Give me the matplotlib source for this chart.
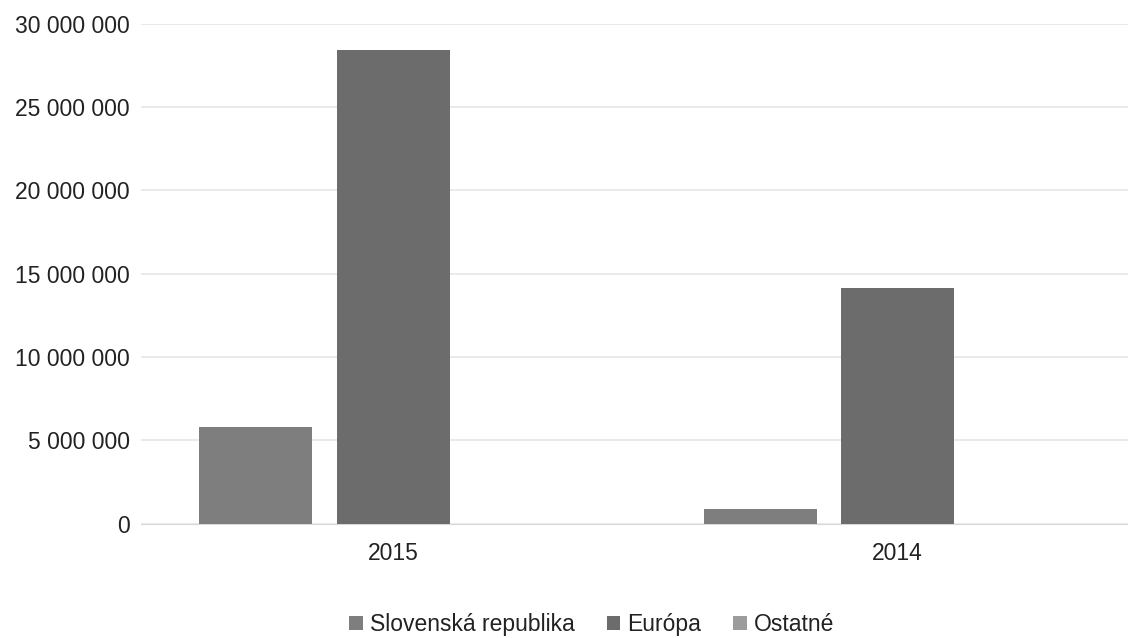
import numpy as np
import matplotlib.pyplot as plt
from matplotlib.ticker import FuncFormatter

plt.rcParams['font.family'] = ['Liberation Sans', 'DejaVu Sans']

years = ['2015', '2014']
series = ['Slovenská republika', 'Európa', 'Ostatné']
slovensko = [5800000, 900000]
europa = [28400000, 14150000]
ostatne = [0, 0]
colors = ['#7e7e7e', '#6c6c6c', '#9c9c9c']

fig = plt.figure(figsize=(11.28, 6.38), dpi=100)
ax = fig.add_axes([0.125, 0.179, 0.894, 0.784])

x = np.arange(len(years))
w = 0.224
step = 0.272
for i, (vals, name) in enumerate(zip([slovensko, europa, ostatne], series)):
    ax.bar(x + (i - 1) * step, vals, w, color=colors[i], label=name, zorder=3)

ax.set_xlim(-0.5, 1.5)
ax.set_ylim(0, 30000000)
ax.set_yticks(np.arange(0, 30000001, 5000000))
ax.yaxis.set_major_formatter(FuncFormatter(lambda v, p: f'{int(v):,}'.replace(',', ' ')))
ax.set_xticks(x)
ax.set_xticklabels(years)
ax.tick_params(axis='both', length=0, labelsize=16.5, colors='#222222')
ax.tick_params(axis='y', pad=8)
ax.tick_params(axis='x', pad=13)
ax.grid(axis='y', color='#e6e6e6', linewidth=1.2, zorder=0)
for s in ['top', 'right', 'left']:
    ax.spines[s].set_visible(False)
ax.spines['bottom'].set_color('#d9d9d9')

ax.legend(loc='upper center', bbox_to_anchor=(0.447, -0.137), ncol=3, frameon=False,
          fontsize=16.5, handlelength=0.6, handleheight=0.6, handletextpad=0.3,
          columnspacing=1.4, labelcolor='#222222')

fig.savefig('out.png', dpi=100)
